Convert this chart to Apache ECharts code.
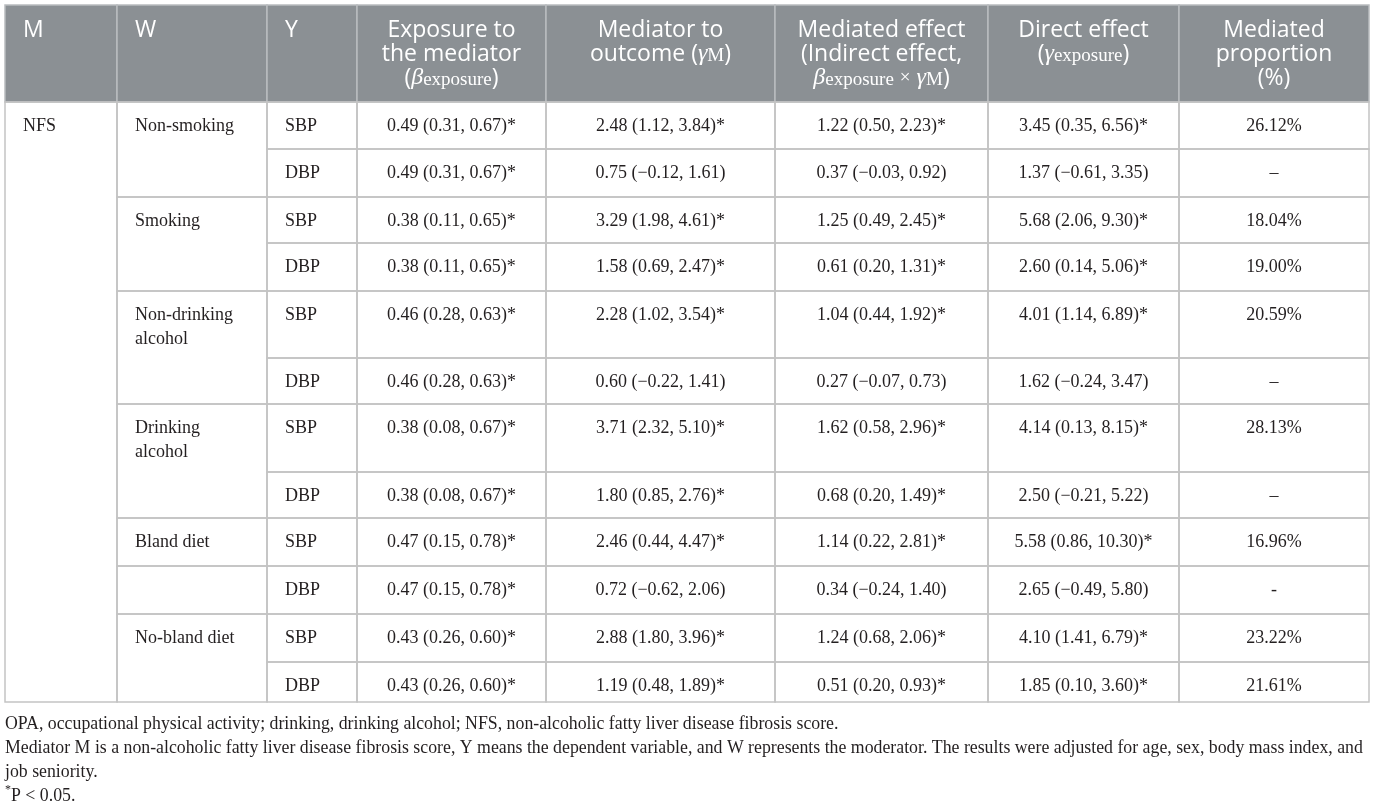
<!DOCTYPE html>
<html>
<head>
<meta charset="utf-8">
<script src="https://cdn.jsdelivr.net/npm/echarts@6.0.0/dist/echarts.min.js"></script>
<style>
  html, body { margin: 0; padding: 0; background: #fff; }
  #main { width: 1375px; height: 806px; }
</style>
</head>
<body>
<div id="main"></div>
<script>
// table content
var headers = [
    'M',
    'W',
    'Y',
    'Exposure to\nthe mediator\n({gr|β}{sub|exposure})',
    'Mediator to\noutcome ({gr|γ}{sub|M})',
    'Mediated effect\n(Indirect effect,\n{gr|β}{sub|exposure} {x|×} {gr|γ}{sub|M})',
    'Direct effect\n({gr|γ}{sub|exposure})',
    'Mediated\nproportion\n(%)'
];
var mediatorName = 'NFS';
var moderators = ['Non-smoking', 'Smoking', 'Non-drinking\nalcohol', 'Drinking\nalcohol', 'Bland diet', '', 'No-bland diet'];
var moderatorRows = [2, 2, 2, 2, 1, 1, 2];
var outcomes = ['SBP', 'DBP', 'SBP', 'DBP', 'SBP', 'DBP', 'SBP', 'DBP', 'SBP', 'DBP', 'SBP', 'DBP'];
var exposureToMediator = [
    '0.49 (0.31, 0.67)*', '0.49 (0.31, 0.67)*',
    '0.38 (0.11, 0.65)*', '0.38 (0.11, 0.65)*',
    '0.46 (0.28, 0.63)*', '0.46 (0.28, 0.63)*',
    '0.38 (0.08, 0.67)*', '0.38 (0.08, 0.67)*',
    '0.47 (0.15, 0.78)*', '0.47 (0.15, 0.78)*',
    '0.43 (0.26, 0.60)*', '0.43 (0.26, 0.60)*'
];
var mediatorToOutcome = [
    '2.48 (1.12, 3.84)*', '0.75 (\u22120.12, 1.61)',
    '3.29 (1.98, 4.61)*', '1.58 (0.69, 2.47)*',
    '2.28 (1.02, 3.54)*', '0.60 (\u22120.22, 1.41)',
    '3.71 (2.32, 5.10)*', '1.80 (0.85, 2.76)*',
    '2.46 (0.44, 4.47)*', '0.72 (\u22120.62, 2.06)',
    '2.88 (1.80, 3.96)*', '1.19 (0.48, 1.89)*'
];
var mediatedEffect = [
    '1.22 (0.50, 2.23)*', '0.37 (\u22120.03, 0.92)',
    '1.25 (0.49, 2.45)*', '0.61 (0.20, 1.31)*',
    '1.04 (0.44, 1.92)*', '0.27 (\u22120.07, 0.73)',
    '1.62 (0.58, 2.96)*', '0.68 (0.20, 1.49)*',
    '1.14 (0.22, 2.81)*', '0.34 (\u22120.24, 1.40)',
    '1.24 (0.68, 2.06)*', '0.51 (0.20, 0.93)*'
];
var directEffect = [
    '3.45 (0.35, 6.56)*', '1.37 (\u22120.61, 3.35)',
    '5.68 (2.06, 9.30)*', '2.60 (0.14, 5.06)*',
    '4.01 (1.14, 6.89)*', '1.62 (\u22120.24, 3.47)',
    '4.14 (0.13, 8.15)*', '2.50 (\u22120.21, 5.22)',
    '5.58 (0.86, 10.30)*', '2.65 (\u22120.49, 5.80)',
    '4.10 (1.41, 6.79)*', '1.85 (0.10, 3.60)*'
];
var mediatedProportion = [
    '26.12%', '\u2013',
    '18.04%', '19.00%',
    '20.59%', '\u2013',
    '28.13%', '\u2013',
    '16.96%', '-',
    '23.22%', '21.61%'
];
var footnotes = [
    'OPA, occupational physical activity; drinking, drinking alcohol; NFS, non-alcoholic fatty liver disease fibrosis score.',
    'Mediator M is a non-alcoholic fatty liver disease fibrosis score, Y means the dependent variable, and W represents the moderator. The results were adjusted for age, sex, body mass index, and',
    'job seniority.',
    '{sup|*}P < 0.05.'
];

// layout (pixel units on the hidden axes)
var COL_EDGES = [5, 117, 267, 357, 546, 775, 988, 1179, 1369];
var ROW_EDGES = [5, 102, 149, 197, 243, 291, 358, 404, 472, 518, 566, 614, 662, 702];

var SANS = '"Open Sans", "Noto Sans", sans-serif';
var SERIF = '"Liberation Serif", "DejaVu Serif", serif';
var HEAD_BG = '#8b9094';
var HEAD_LINE = '#b9bcbf';
var GRID_LINE = '#c4c4c4';
var INK = '#231f20';

var cells = [];
headers.forEach(function (h, i) {
    cells.push({c0: i, c1: i + 1, r0: 0, r1: 1, text: h, head: true, align: i < 3 ? 'left' : 'center'});
});
cells.push({c0: 0, c1: 1, r0: 1, r1: ROW_EDGES.length - 1, text: mediatorName, align: 'left'});
var r = 1;
moderators.forEach(function (m, i) {
    cells.push({c0: 1, c1: 2, r0: r, r1: r + moderatorRows[i], text: m, align: 'left'});
    r += moderatorRows[i];
});
var valueCols = [outcomes, exposureToMediator, mediatorToOutcome, mediatedEffect, directEffect, mediatedProportion];
valueCols.forEach(function (col, k) {
    col.forEach(function (txt, j) {
        cells.push({c0: 2 + k, c1: 3 + k, r0: 1 + j, r1: 2 + j, text: txt, align: k === 0 ? 'left' : 'center'});
    });
});

var headRich = {
    gr: {fontFamily: SERIF, fontStyle: 'italic', fontSize: 24, lineHeight: 24, fill: '#fff'},
    sub: {fontFamily: SERIF, fontSize: 19, lineHeight: 14, verticalAlign: 'bottom', fill: '#fff'},
    x: {fontFamily: SERIF, fontSize: 19, lineHeight: 24, fill: '#fff'}
};

function renderCell(params, api) {
    var c = cells[params.dataIndex];
    var p0 = api.coord([COL_EDGES[c.c0], ROW_EDGES[c.r0]]);
    var p1 = api.coord([COL_EDGES[c.c1], ROW_EDGES[c.r1]]);
    var tx = c.align === 'left' ? p0[0] + 18 : (p0[0] + p1[0]) / 2;
    var children = [{
        type: 'rect',
        shape: {x: p0[0], y: p0[1], width: p1[0] - p0[0], height: p1[1] - p0[1]},
        style: {
            fill: c.head ? HEAD_BG : 'none',
            stroke: c.head ? HEAD_LINE : GRID_LINE,
            lineWidth: 1.5
        }
    }];
    if (c.head) {
        children.push({
            type: 'text',
            style: {
                text: c.text, x: tx, y: p0[1] + 13,
                align: c.align, verticalAlign: 'top',
                fontFamily: SANS, fontSize: 23, lineHeight: 24,
                fill: '#fff', rich: headRich
            }
        });
    } else {
        children.push({
            type: 'text',
            style: {
                text: c.text, x: tx, y: p0[1] + 12,
                align: c.align, verticalAlign: 'top',
                fontFamily: SERIF, fontSize: 18, lineHeight: 24,
                fill: INK
            }
        });
    }
    return {type: 'group', children: children};
}

var chart = echarts.init(document.getElementById('main'));
chart.setOption({
    animation: false,
    grid: {left: 0, right: 0, top: 0, bottom: 0},
    xAxis: {type: 'value', min: 0, max: 1375, show: false},
    yAxis: {type: 'value', min: 0, max: 806, inverse: true, show: false},
    series: [{
        type: 'custom',
        renderItem: renderCell,
        silent: true,
        clip: false,
        data: cells.map(function (c) {
            return [COL_EDGES[c.c0], ROW_EDGES[c.r0]];
        })
    }],
    graphic: footnotes.map(function (t, i) {
        return {
            type: 'text',
            left: 5,
            top: 712 + i * 24,
            style: {
                text: t,
                fontFamily: SERIF, fontSize: 17.8, lineHeight: 24,
                fill: INK,
                rich: {sup: {fontFamily: SERIF, fontSize: 12, lineHeight: 14, verticalAlign: 'top', fill: INK}}
            }
        };
    })
});
</script>
</body>
</html>
